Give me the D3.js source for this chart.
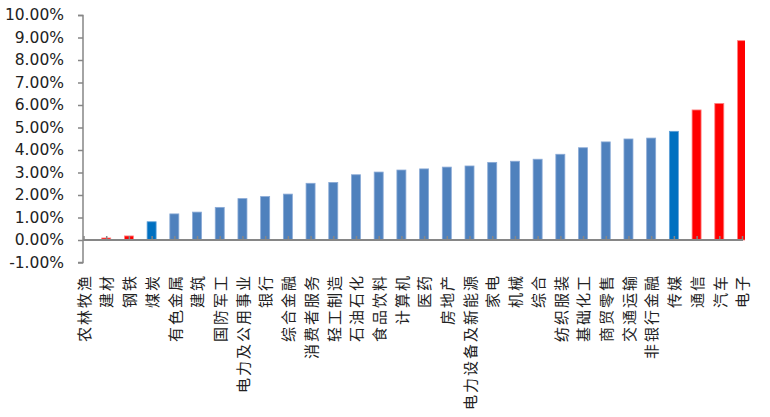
<!DOCTYPE html>
<html><head><meta charset="utf-8">
<script src="https://cdn.jsdelivr.net/npm/d3@7"></script>
<style>
html,body{margin:0;padding:0;background:#fff;}
svg{display:block;}
</style></head>
<body>
<svg id="chart" width="770" height="417"></svg>
<script>
const categories = ["农林牧渔","建材","钢铁","煤炭","有色金属","建筑","国防军工","电力及公用事业","银行","综合金融","消费者服务","轻工制造","石油石化","食品饮料","计算机","医药","房地产","电力设备及新能源","家电","机械","综合","纺织服装","基础化工","商贸零售","交通运输","非银行金融","传媒","通信","汽车","电子"];
const values = [0.00, 0.09, 0.18, 0.81, 1.16, 1.24, 1.45, 1.84, 1.93, 2.04, 2.52, 2.56, 2.90, 3.02, 3.11, 3.16, 3.24, 3.29, 3.45, 3.50, 3.59, 3.81, 4.10, 4.36, 4.49, 4.53, 4.83, 5.78, 6.07, 8.86];
const redCategories = ["农林牧渔","建材","钢铁","通信","汽车","电子"];
const darkBlueCategories = ["煤炭","传媒"];
const yTicks = [-1,0,1,2,3,4,5,6,7,8,9,10];

const data = categories.map((c,i)=>({cat:c, v:values[i]}));
const svg = d3.select("#chart");
const x = d3.scalePoint().domain(categories).range([83.5, 742]);
const y = d3.scaleLinear().domain([-1, 10]).range([262.5, 15]);
const axisColor = "#868686";
const bw = 9;

function fillOf(c){ return redCategories.includes(c) ? "#FF0000" : darkBlueCategories.includes(c) ? "#0070C0" : "#4F81BD"; }
function strokeOf(c){ return redCategories.includes(c) ? "#FF8080" : darkBlueCategories.includes(c) ? "#5FA0D8" : "#8AAAD6"; }

svg.append("defs").append("clipPath").attr("id","plotclip")
  .append("rect").attr("x",83).attr("y",0).attr("width",745-83).attr("height",300);

svg.append("g").attr("clip-path","url(#plotclip)")
  .selectAll("rect").data(data).join("rect")
  .attr("x", d=>x(d.cat)-bw/2)
  .attr("width", bw)
  .attr("y", d=>Math.min(y(d.v), y(0)))
  .attr("height", d=>Math.abs(y(d.v)-y(0)))
  .attr("fill", d=>fillOf(d.cat))
  .attr("stroke", d=>strokeOf(d.cat))
  .attr("stroke-width", 0.8);

// y axis
const yAxis = d3.axisLeft(y).tickValues(yTicks).tickSize(5).tickFormat(d=>d.toFixed(2)+"%");
const gy = svg.append("g").attr("transform","translate(83,0)").call(yAxis);
gy.select(".domain").attr("stroke",axisColor).attr("stroke-width",1.5).attr("d","M-5,15.5H0V262.5H-5");
gy.selectAll(".tick line").attr("stroke",axisColor).attr("stroke-width",1.5);
gy.selectAll(".tick text").attr("x",-19).attr("fill","#222")
  .style("font-family","'DejaVu Sans', sans-serif").style("font-size","15.5px");

// x axis at zero
const xAxis = d3.axisBottom(x).tickSize(-4).tickFormat("");
const gx = svg.append("g").attr("transform",`translate(0,${y(0)})`).call(xAxis);
gx.select(".domain").attr("stroke",axisColor).attr("stroke-width",1.8).attr("d","M83,0H743");
gx.selectAll(".tick line").attr("stroke",axisColor).attr("stroke-width",1.5);

// category labels (rotated, reading bottom to top)
svg.append("g").selectAll("text").data(categories).join("text")
  .attr("transform", c=>`translate(${x(c)+1},274) rotate(-90)`)
  .attr("text-anchor","end")
  .attr("dy","0.35em")
  .attr("fill","#222")
  .style("font-family","'Noto Sans CJK SC', sans-serif")
  .style("font-size","15px")
  .style("letter-spacing","2px")
  .text(c=>c);
</script>
</body></html>
